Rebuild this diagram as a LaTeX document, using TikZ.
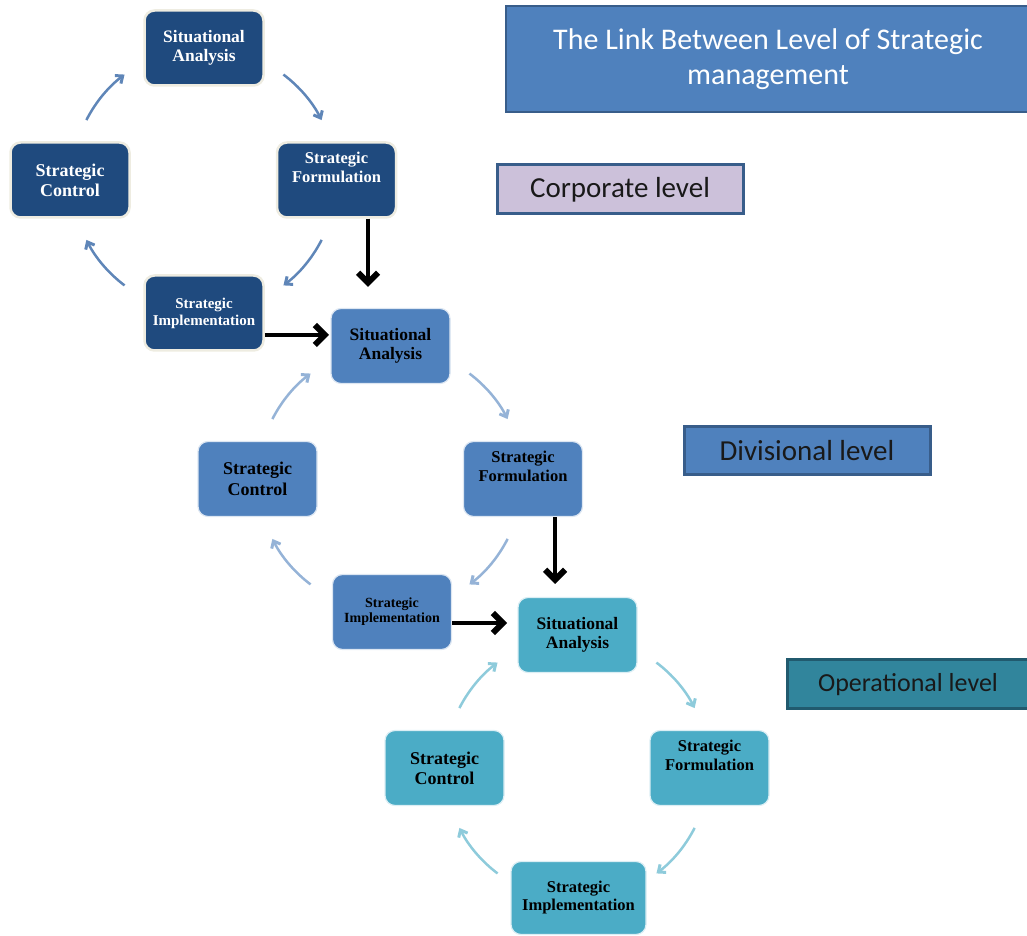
\documentclass[tikz,border=0pt]{standalone}
\usepackage{fontspec}
\setmainfont{Liberation Serif}
\newfontfamily\tagfont{Carlito}
\usetikzlibrary{arrows.meta}

\definecolor{corpfill}{HTML}{1F4A7E}
\definecolor{divfill}{HTML}{4F81BD}
\definecolor{opfill}{HTML}{4BACC6}
\definecolor{rim}{HTML}{EEECE1}
\definecolor{corparc}{HTML}{5F86B8}
\definecolor{divarc}{HTML}{95B3D7}
\definecolor{oparc}{HTML}{8ECBDB}
\definecolor{tagedge}{HTML}{385D8A}
\definecolor{lavender}{HTML}{CCC1DA}
\definecolor{tealfill}{HTML}{31859C}
\definecolor{tealedge}{HTML}{215A6E}

\begin{document}
\begin{tikzpicture}[x=1pt,y=1pt,
  stage/.style={rounded corners=10pt, minimum width=119pt, minimum height=75pt,
    align=center, inner sep=2pt, font=\fontsize{17}{19}\selectfont\bfseries},
  corp/.style={stage, fill=corpfill, draw=rim, line width=2.5pt, text=white},
  div/.style={stage, fill=divfill, draw=white!80!divfill, line width=1.2pt, text=black},
  ops/.style={stage, fill=opfill, draw=white!80!opfill, line width=1.2pt, text=black},
  fs/.style 2 args={font=\fontsize{#1}{#2}\selectfont\bfseries},
  raised/.style={align=center, yshift=13pt, fs={16.5}{19}},
  cyc/.style={line width=2.5pt, -{Straight Barb[length=6pt,width=10pt,line width=3pt]}},
  link/.style={line width=4.5pt, -{Straight Barb[length=10pt,width=20pt,line width=6pt]}},
  tag/.style={draw=tagedge, line width=3pt, inner sep=0pt, text=black!90,
    font=\tagfont\fontsize{29}{35}\selectfont},
]
\useasboundingbox (0,0) rectangle (1027,936);

% level captions
\node[tag, fill=divfill, line width=2.5pt, text=white, align=center,
  minimum width=524pt, minimum height=106pt,
  font=\tagfont\fontsize{30}{35}\selectfont] (title) at (768,877)
  {The Link Between Level of Strategic\\management};
\node[tag, fill=lavender, minimum width=246pt, minimum height=49pt] (corpTag) at (620,746.5) {Corporate level};
\node[tag, fill=divfill, minimum width=246pt, minimum height=48pt] (divTag) at (807,485) {Divisional level};
\node[tag, fill=tealfill, draw=tealedge, minimum width=242pt, minimum height=49pt,
  font=\tagfont\fontsize{26}{31}\selectfont] (opTag) at (908,251.5) {Operational level};

% cycle centres
\coordinate (c1) at (204,756);
\coordinate (c2) at (390,457);
\coordinate (c3) at (577,168);

% corporate cycle
\node[corp, fs={17.5}{19}] (sa1) at (204,888) {Situational\\Analysis};
\node[corp, label={[raised, text=white]center:Strategic\\Formulation}] (sf1) at (336.5,756) {};
\node[corp, fs={18}{20}] (sc1) at (70,756) {Strategic\\Control};
\node[corp, fs={15}{17}] (si1) at (204,623) {Strategic\\Implementation};

% divisional cycle
\node[div, fs={17.5}{19}] (sa2) at (390.5,590) {Situational\\Analysis};
\node[div, label={[raised, text=black]center:Strategic\\Formulation}] (sf2) at (523,457) {};
\node[div, fs={18}{21}] (sc2) at (257.5,457) {Strategic\\Control};
\node[div, fs={14}{15}] (si2) at (392,324) {Strategic\\Implementation};

% operational cycle
\node[ops, fs={17.5}{19}] (sa3) at (577.5,301) {Situational\\Analysis};
\node[ops, label={[raised, text=black]center:Strategic\\Formulation}] (sf3) at (709.5,168) {};
\node[ops, fs={18}{20}] (sc3) at (444.5,168) {Strategic\\Control};
\node[ops, fs={16.5}{18}, minimum width=135pt, minimum height=73pt] (si3) at (578.5,38) {Strategic\\Implementation};

% clockwise arcs between the stages of each cycle
\foreach \a in {153,53,-27,-127}{
  \draw[cyc, corparc] ([shift={(\a:132)}]c1) arc[start angle=\a, end angle=\a-26, radius=132];
  \draw[cyc, divarc]  ([shift={(\a:132)}]c2) arc[start angle=\a, end angle=\a-26, radius=132];
  \draw[cyc, oparc]   ([shift={(\a:132)}]c3) arc[start angle=\a, end angle=\a-26, radius=132];
}

% links from one level down to the next
\coordinate (d1) at (368,649);
\coordinate (d2) at (329,601);
\coordinate (d3) at (555,352);
\coordinate (d4) at (507,313);
\draw[link] (sf1.south -| d1) -- (d1);
\draw[link] (si1.east |- d2) -- (d2);
\draw[link] (sf2.south -| d3) -- (d3);
\draw[link] (si2.east |- d4) -- (d4);
\end{tikzpicture}
\end{document}
